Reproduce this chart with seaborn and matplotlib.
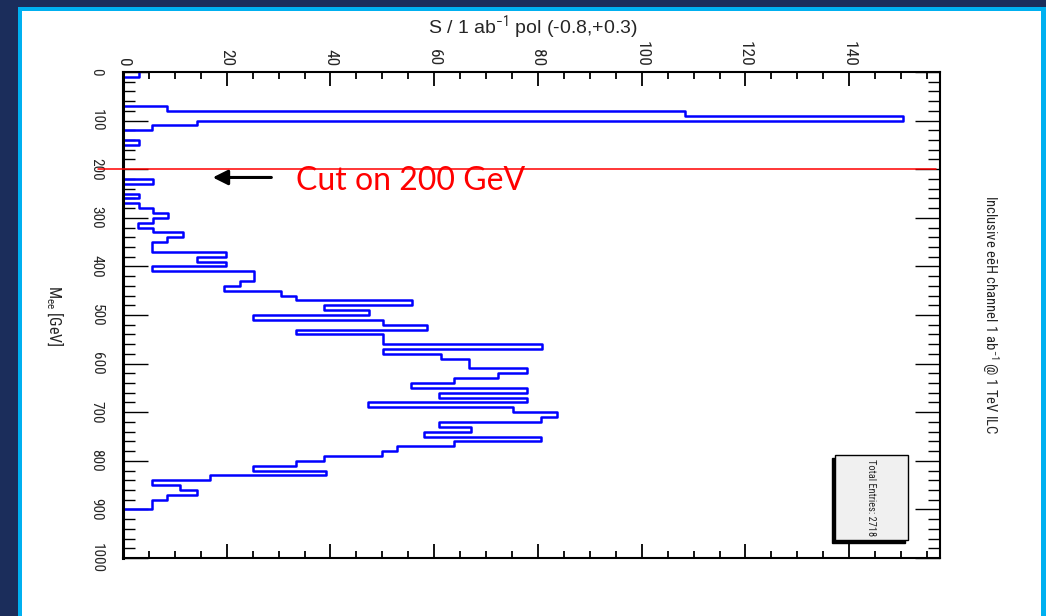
import numpy as np
import pandas as pd
import matplotlib
matplotlib.use("Agg")
import matplotlib.pyplot as plt
from matplotlib import font_manager
from matplotlib.patches import Rectangle
from matplotlib.ticker import MultipleLocator
import seaborn as sns

# Reconstructed invariant mass M_ee, inclusive eeH channel, 1 ab^-1 at 1 TeV,
# beam polarisation (-0.8, +0.3); 10 GeV bins from 0 to 1000 GeV.
bin_lo_gev, bin_hi_gev, bin_width_gev = 0, 1000, 10
signal_per_bin = [
    3.0, 0, 0, 0, 0, 0, 0, 8.5, 108.4, 150.4,            # 0-100
    14.2, 5.5, 0, 0, 3.0, 0, 0, 0, 0, 0,                 # 100-200
    0, 0, 5.8, 0, 0, 3.0, 0, 3.0, 5.8, 8.7,              # 200-300
    5.8, 2.8, 5.8, 11.6, 8.5, 5.5, 5.5, 19.9, 14.2, 19.9,  # 300-400
    5.5, 25.3, 25.3, 22.6, 19.5, 30.5, 33.4, 55.8, 38.8, 47.5,  # 400-500
    25.1, 50.1, 58.7, 33.4, 50.1, 50.1, 80.8, 50.1, 61.3, 66.7,  # 500-600
    66.7, 77.9, 72.2, 63.8, 55.5, 77.9, 61.0, 77.9, 47.2, 75.1,  # 600-700
    83.7, 80.5, 61.0, 67.1, 58.1, 80.5, 63.8, 52.9, 50.0, 38.8,  # 700-800
    33.4, 25.1, 39.2, 16.7, 5.5, 11.0, 14.2, 8.4, 5.5, 5.5,      # 800-900
    0, 0, 0, 0, 0, 0, 0, 0, 0, 0,                                # 900-1000
]
cut_gev = 200
total_entries = 2718
count_ticks = [0, 20, 40, 60, 80, 100, 120, 140]
mass_ticks = [0, 100, 200, 300, 400, 500, 600, 700, 800, 900, 1000]

sns.set_style("ticks")

# prefer a narrow sans face for the rotated ROOT-style labels
ttf = font_manager.fontManager.ttflist
names = {f.name for f in ttf}
narrow_family, narrow_stretch = "Liberation Sans", "normal"
for cand in ["Liberation Sans Narrow", "Arial Narrow", "Roboto Condensed",
             "Noto Sans Condensed", "Open Sans Condensed", "DejaVu Sans Condensed"]:
    if cand in names:
        narrow_family = cand
        break
else:
    def _is_condensed(f):
        s = f.stretch
        if isinstance(s, str):
            return "condensed" in s
        return s < 500
    cond = [f for f in ttf if _is_condensed(f) and "Mono" not in f.name
            and "Serif" not in f.name and f.style == "normal"]
    if cond:
        narrow_family, narrow_stretch = cond[0].name, cond[0].stretch

plt.rcParams["font.family"] = [narrow_family, "DejaVu Sans"]
plt.rcParams["font.stretch"] = narrow_stretch
plt.rcParams["mathtext.fontset"] = "custom"
plt.rcParams["mathtext.rm"] = narrow_family
plt.rcParams["mathtext.it"] = narrow_family + ":italic"

navy = "#1b2d5b"
cyan = "#00b0f0"
W, H = 1046, 616

fig = plt.figure(figsize=(W / 100, H / 100), dpi=100, facecolor="white")

# slide frame
fig.add_artist(Rectangle((0, 0), 18 / W, 1, transform=fig.transFigure,
                         facecolor=navy, edgecolor="none", zorder=0))
fig.add_artist(Rectangle((0, 1 - 7 / H), 1, 7 / H, transform=fig.transFigure,
                         facecolor=navy, edgecolor="none", zorder=0))
fig.add_artist(Rectangle((18 / W, 0), 4 / W, 1 - 7 / H, transform=fig.transFigure,
                         facecolor=cyan, edgecolor="none", zorder=0))
fig.add_artist(Rectangle((18 / W, 1 - 11 / H), 1 - 18 / W, 4 / H, transform=fig.transFigure,
                         facecolor=cyan, edgecolor="none", zorder=0))
fig.add_artist(Rectangle((1 - 5 / W, 0), 5 / W, 1 - 7 / H, transform=fig.transFigure,
                         facecolor=cyan, edgecolor="none", zorder=0))

ax_left, ax_right, ax_top, ax_bottom = 123, 940, 72, 558
ax = fig.add_axes([ax_left / W, 1 - ax_bottom / H,
                   (ax_right - ax_left) / W, (ax_bottom - ax_top) / H])
ax.set_facecolor("white")

n_bins = len(signal_per_bin)
centers = bin_lo_gev + bin_width_gev * (np.arange(n_bins) + 0.5)
df = pd.DataFrame({"m_ee": centers, "events": signal_per_bin})
sns.histplot(data=df, y="m_ee", weights="events", binwidth=bin_width_gev,
             binrange=(bin_lo_gev, bin_hi_gev),
             element="step", fill=False, color="#0000ff", linewidth=1.8, ax=ax)

ax.set_ylim(bin_hi_gev, bin_lo_gev)
ax.set_xlim(0, 157.5)
ax.set_xlabel("")
ax.set_ylabel("")

ax.set_xticks(count_ticks)
ax.set_yticks(mass_ticks)
ax.xaxis.set_minor_locator(MultipleLocator(5))
ax.yaxis.set_minor_locator(MultipleLocator(20))
ax.tick_params(axis="x", which="both", direction="in", top=True, bottom=True,
               labeltop=True, labelbottom=False, labelrotation=-90,
               labelsize=12.5, pad=4, width=1.3, color="black")
ax.tick_params(axis="x", which="major", length=10)
ax.tick_params(axis="x", which="minor", length=5)
ax.tick_params(axis="y", which="both", direction="in", left=True, right=True,
               labelleft=True, labelright=False, labelrotation=-90,
               labelsize=11, pad=14, width=1.0, color="black")
ax.tick_params(axis="y", which="major", length=18)
ax.tick_params(axis="y", which="minor", length=8.5)
for lbl in ax.get_yticklabels():
    lbl.set_ha("right")
    lbl.set_va("center")

for side, spine in ax.spines.items():
    spine.set_visible(True)
    spine.set_color("black")
    spine.set_linewidth(2.2 if side == "left" else 1.5)

# selection cut and annotation
ax.axhline(cut_gev, xmin=-0.031, xmax=0.995, color="red", linewidth=1.1,
           clip_on=False, zorder=4)
ax.annotate("", xy=(17.3, 217), xytext=(28.6, 217),
            arrowprops=dict(arrowstyle="-|>,head_length=0.9,head_width=0.45",
                            color="black", linewidth=2.2, shrinkA=0, shrinkB=0))
ax.text(33.3, 242, f"Cut on {cut_gev} GeV", color="red", fontsize=23,
        family=["Lato", "DejaVu Sans"], fontstretch="normal",
        ha="left", va="baseline")

# statistics box
ax.add_patch(Rectangle((0.8678, 0.031), 0.0893, 0.175, transform=ax.transAxes,
                       facecolor="black", edgecolor="black", zorder=5))
ax.add_patch(Rectangle((0.8715, 0.037), 0.0893, 0.175, transform=ax.transAxes,
                       facecolor="#f0f0f0", edgecolor="black", linewidth=1.0, zorder=6))
ax.text(0.916, 0.1245, f"Total Entries: {total_entries}", transform=ax.transAxes,
        rotation=-90, ha="center", va="center", fontsize=7.5, zorder=7)

# titles
fig.text(533 / W, 1 - 27 / H, r"S / 1 ab$^{-1}$ pol (-0.8,+0.3)",
         ha="center", va="center", fontsize=14,
         family=["Liberation Sans", "DejaVu Sans"], fontstretch="normal")
fig.text(990 / W, 1 - 315 / H, r"Inclusive eēH channel 1 ab$^{-1}$ @ 1 TeV ILC",
         rotation=-90, ha="center", va="center", fontsize=10.5)
fig.text(55 / W, 1 - 316 / H, r"M$_{\mathrm{ee}}$ [GeV]",
         rotation=-90, ha="center", va="center", fontsize=11.5)

fig.savefig("out.png", dpi=100, facecolor=fig.get_facecolor())
